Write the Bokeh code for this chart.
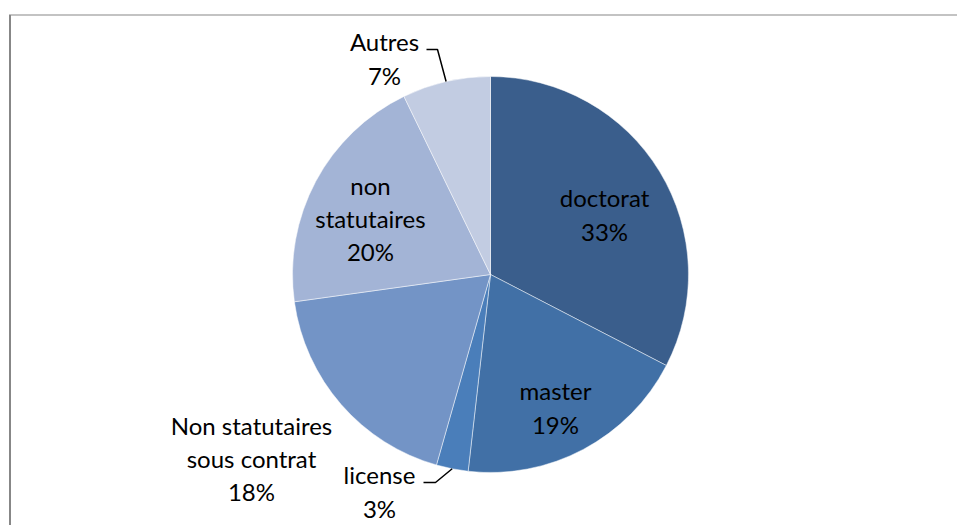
import math
from bokeh.plotting import figure
from bokeh.models import Range1d, ColumnDataSource
from bokeh.core.properties import value
from bokeh.embed import file_html
from bokeh.resources import INLINE

# ---- data ----
categories = ["doctorat", "master", "license", "Non statutaires\nsous contrat", "non\nstatutaires", "Autres"]
percents = [32.6, 19.2, 2.6, 18.4, 20.0, 7.2]
colors = ["#3A5E8C", "#4170A6", "#4A7EBA", "#7394C6", "#A3B4D6", "#C2CCE2"]

# ---- layout (label anchors relative to pie centre, px) ----
R = 198
label_pos = [(114, 60), (65, -133), (-111, -217), (-239, -184), (-120, 56), (-106, 216)]
leader_elbows = {2: [(-67, -208), (-55, -208)], 5: [(-64, 225), (-53, 225)]}

total = sum(percents)
starts, ends, mids = [], [], []
cum = 0
for v in percents:
    a0 = math.pi / 2 - 2 * math.pi * cum / total
    cum += v
    a1 = math.pi / 2 - 2 * math.pi * cum / total
    starts.append(a0)
    ends.append(a1)
    mids.append((a0 + a1) / 2)

p = figure(width=957, height=525, output_backend="svg", toolbar_location=None,
           x_range=Range1d(-490, 467), y_range=Range1d(-251, 274),
           x_axis_location=None, y_axis_location=None, min_border=0)
p.grid.visible = False
p.outline_line_color = None
p.background_fill_color = "white"
p.border_fill_color = "white"

# frame border (chart area)
p.segment(x0=[-480.5], y0=[-300], x1=[-480.5], y1=[259.5], line_color="#878787", line_width=2)
p.segment(x0=[-481.5], y0=[259.5], x1=[480], y1=[259.5], line_color="#878787", line_width=1.2)

src = ColumnDataSource(dict(start=starts, end=ends, color=colors))
p.wedge(x=0, y=0, radius=R, start_angle="start", end_angle="end", direction="clock",
        fill_color="color", line_color="white", line_width=0.8, line_alpha=0.6, source=src)

# leader lines
for i, elbow in leader_elbows.items():
    ex = R * math.cos(mids[i])
    ey = R * math.sin(mids[i])
    xs = [elbow[0][0], elbow[1][0], ex]
    ys = [elbow[0][1], elbow[1][1], ey]
    p.line(xs, ys, line_color="black", line_width=1.5)

texts = [f"{c}\n{round(v)}%" for c, v in zip(categories, percents)]
lsrc = ColumnDataSource(dict(x=[a for a, b in label_pos], y=[b for a, b in label_pos], t=texts))
p.text(x="x", y="y", text="t", source=lsrc, text_align="center", text_baseline="middle",
       text_font=value("Lato"), text_font_size="24px", text_color="black", text_line_height=1.15)

open("out.html", "w").write(file_html(p, INLINE))
